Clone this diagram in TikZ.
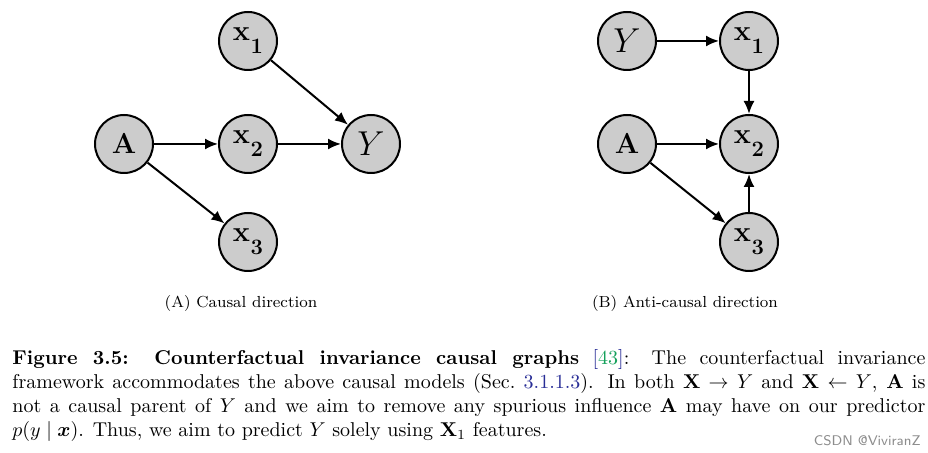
\documentclass[tikz,border=0pt]{standalone}
\usepackage{amsmath}
\usepackage{xcolor}
\usetikzlibrary{arrows.meta}
\definecolor{citeblue}{RGB}{40,45,150}
\definecolor{citegreen}{RGB}{20,160,90}
\definecolor{nodegray}{RGB}{204,204,204}
\newcommand{\xlabel}[1]{{\Large$\mathbf{x}$}\kern0.3pt\raisebox{-6.5pt}{\fontsize{11}{11}\selectfont\bfseries #1}}
\tikzset{
  var/.style={circle, draw=black, fill=nodegray, line width=1pt, minimum size=29pt, inner sep=0pt},
  edge/.style={line width=1pt, -{Latex[length=6.5pt,width=5.5pt]}},
  sublab/.style={font=\footnotesize},
}
\begin{document}
\begin{tikzpicture}[x=0.5pt,y=-0.5pt]
\useasboundingbox (0,0) rectangle (928,453);
% left graph
\node[var] (lx1) at (248,41) {\xlabel{1}};
\node[var] (lA) at (124,144) {\Large$\mathbf{A}$};
\node[var] (lx2) at (248,144) {\xlabel{2}};
\node[var] (lY) at (371,144) {\LARGE$Y$};
\node[var] (lx3) at (248,242) {\xlabel{3}};
\draw[edge] (lx1) -- (lY);
\draw[edge] (lA) -- (lx2);
\draw[edge] (lx2) -- (lY);
\draw[edge] (lA) -- (lx3);
% right graph
\node[var] (rY) at (627,41) {\LARGE$Y$};
\node[var] (rx1) at (749,41) {\xlabel{1}};
\node[var] (rA) at (627,144) {\Large$\mathbf{A}$};
\node[var] (rx2) at (749,144) {\xlabel{2}};
\node[var] (rx3) at (749,242) {\xlabel{3}};
\draw[edge] (rY) -- (rx1);
\draw[edge] (rx1) -- (rx2);
\draw[edge] (rA) -- (rx2);
\draw[edge] (rA) -- (rx3);
\draw[edge] (rx3) -- (rx2);
% sub captions
\node[sublab] (capA) at (241,304) {(A) Causal direction};
\node[sublab] (capB) at (685,304) {(B) Anti-causal direction};
% main caption
\node[anchor=north west, inner sep=0pt, text width=456.5pt, align=justify, font=\normalsize] (cap) at (12,349)
{\textbf{Figure 3.5: Counterfactual invariance causal graphs} {\color{citeblue}[}{\color{citegreen}43}{\color{citeblue}]}: The counterfactual invariance\linebreak
framework accommodates the above causal models (Sec.~{\color{citeblue}3.1.1.3}). In both $\mathbf{X}\rightarrow Y$ and $\mathbf{X}\leftarrow Y$, $\mathbf{A}$ is\linebreak
not a causal parent of $Y$ and we aim to remove any spurious influence $\mathbf{A}$ may have on our predictor\linebreak
$p(y\mid \boldsymbol{x})$. Thus, we aim to predict $Y$ solely using $\mathbf{X}_1$ features.};
\node[anchor=base east, inner sep=0pt, font=\sffamily\scriptsize, text=black!45] (wm) at (921,446) {CSDN @ViviranZ};
\end{tikzpicture}
\end{document}
